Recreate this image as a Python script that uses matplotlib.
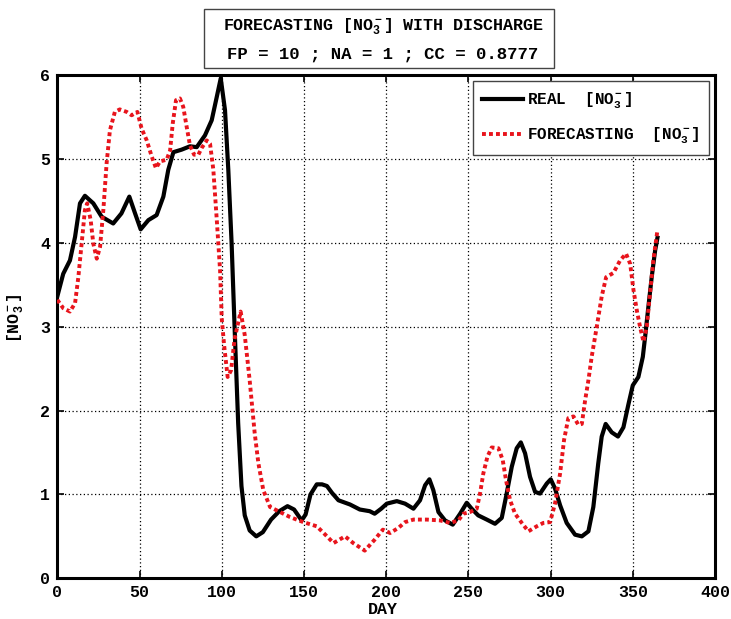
import matplotlib
matplotlib.use("Agg")
import matplotlib.pyplot as plt
from matplotlib.patches import Rectangle

# ---------------- data ----------------
real_day = [0, 3.6, 7.7, 10.8, 13.8, 16.8, 21.9, 27, 34, 39, 43.8, 47.3, 50.7, 55.4, 60.4,
            64.5, 67.5, 70.6, 75.6, 80.7, 84.8, 89.8, 93.9, 97, 99.4, 102, 104, 106, 108,
            110, 112, 114, 117, 121, 125, 130, 135, 140, 144, 148.6, 151, 154, 157.8, 161,
            164, 167, 171, 178, 184, 190, 193, 197, 200.4, 206.5, 211.5, 216.6, 220.6, 223.7,
            226.3, 228.7, 231.8, 235.8, 240.5, 245, 249, 252, 256, 261.2, 266.2, 270.3, 273.3,
            276.4, 279.4, 281.9, 284.5, 287.5, 290.6, 293.6, 297.7, 300.1, 302.7, 305.8, 309.8,
            314.9, 319, 323, 326, 329, 331.1, 333.5, 337.2, 341, 344.3, 347.3, 350, 353.4,
            356.1, 357.5, 359.5, 361.5, 363.6, 365]
real_val = [3.36, 3.63, 3.79, 4.07, 4.47, 4.56, 4.47, 4.31, 4.23, 4.35, 4.55, 4.35, 4.16, 4.27, 4.33,
            4.55, 4.87, 5.08, 5.11, 5.15, 5.14, 5.28, 5.46, 5.74, 5.96, 5.58, 4.87, 4.0, 2.9,
            1.85, 1.1, 0.75, 0.57, 0.50, 0.55, 0.70, 0.80, 0.86, 0.82, 0.69, 0.76, 1.0, 1.12, 1.12,
            1.10, 1.02, 0.93, 0.88, 0.82, 0.80, 0.77, 0.83, 0.89, 0.92, 0.89, 0.83, 0.93, 1.11,
            1.18, 1.05, 0.79, 0.69, 0.64, 0.77, 0.90, 0.83, 0.75, 0.70, 0.65, 0.72, 1.01,
            1.33, 1.55, 1.62, 1.49, 1.21, 1.03, 1.01, 1.13, 1.18, 1.07, 0.87, 0.66,
            0.52, 0.50, 0.56, 0.85, 1.37, 1.69, 1.84, 1.74, 1.69, 1.80, 2.07, 2.30, 2.40,
            2.64, 2.88, 3.24, 3.59, 3.91, 4.06]

fc_day = [0, 3.6, 7.7, 10.8, 12.8, 14.8, 16.8, 18.2, 20.3, 21.9, 24, 26, 28, 30, 32, 35, 38,
          42.2, 45.2, 48.7, 51.3, 54.4, 57.4, 60, 62.5, 66.5, 68.6, 70.2, 72.2, 74.6, 76.6,
          78.7, 80.7, 83.2, 85.8, 87.8, 90.9, 92.9, 94.9, 97, 99, 100, 101.5, 103.6, 105.7,
          107.8, 111.5, 114, 117, 120, 122.3, 125.3, 129.4, 135.5, 141.5, 149.6, 157.8, 163,
          168, 175, 180, 187, 193, 198, 202.4, 207.4, 211.5, 216.6, 224.7, 232.8, 238.9,
          243.9, 247, 251, 255.1, 257.1, 259.1, 261.6, 264.2, 268.3, 270.9, 272.9, 275.4,
          278.4, 282.5, 286.5, 291.6, 295.6, 299.7, 302.7, 305.8, 308.2, 310.8, 313.9, 316.9,
          319, 321, 323, 325, 328.1, 331.1, 333.8, 338.2, 342.3, 345.9, 348.4, 350.4, 352.4,
          354.4, 356.5, 358.5, 360.5, 362.5, 365]
fc_val = [3.32, 3.22, 3.18, 3.28, 3.59, 3.99, 4.39, 4.47, 4.27, 3.99, 3.81, 3.95, 4.39, 4.95,
          5.34, 5.56, 5.59, 5.56, 5.52, 5.56, 5.36, 5.22, 5.03, 4.89, 4.97, 4.99, 5.10, 5.42,
          5.70, 5.72, 5.62, 5.38, 5.16, 5.05, 5.05, 5.13, 5.22, 5.18, 4.87, 4.27, 3.67, 3.10,
          2.77, 2.40, 2.48, 2.85, 3.18, 2.90, 2.36, 1.74, 1.37, 1.05, 0.85, 0.79, 0.73, 0.67,
          0.62, 0.52, 0.42, 0.50, 0.42, 0.33, 0.46, 0.58, 0.54, 0.60, 0.67, 0.70, 0.70, 0.69,
          0.66, 0.69, 0.77, 0.79, 0.83, 1.01, 1.25, 1.45, 1.56, 1.55, 1.41, 1.17, 0.93, 0.77,
          0.66, 0.56, 0.62, 0.66, 0.67, 0.89, 1.25, 1.65, 1.91, 1.93, 1.83, 1.84, 2.12, 2.36,
          2.64, 3.00, 3.36, 3.59, 3.64, 3.79, 3.87, 3.75, 3.44, 3.20, 3.00, 2.82, 3.00, 3.40,
          3.79, 4.15]

x_ticks = [0, 50, 100, 150, 200, 250, 300, 350, 400]
y_ticks = [0, 1, 2, 3, 4, 5, 6]

# ---------------- style ----------------
FONT = "Liberation Mono"
plt.rcParams["font.family"] = [FONT, "DejaVu Sans"]
plt.rcParams["font.weight"] = "bold"
plt.rcParams["mathtext.fontset"] = "custom"
plt.rcParams["mathtext.rm"] = FONT + ":bold"
plt.rcParams["mathtext.it"] = FONT + ":bold"
plt.rcParams["mathtext.bf"] = FONT + ":bold"

W, H = 731, 619
fig = plt.figure(figsize=(W / 100, H / 100), dpi=100)
left, right, top, bottom = 57.3, 715.0, 75.0, 578.3
ax = fig.add_axes([left / W, 1 - bottom / H, (right - left) / W, (bottom - top) / H])

ax.plot(real_day, real_val, color="black", lw=3.0, solid_joinstyle="round",
        label="REAL  [NO$_3^-$]", zorder=3)
ax.plot(fc_day, fc_val, color="#e8141c", lw=2.8, linestyle=(0, (1, 0.8)),
        dash_capstyle="butt", label="FORECASTING  [NO$_3^-$]", zorder=4)

ax.set_xlim(0, 400)
ax.set_ylim(0, 6)
ax.set_xticks(x_ticks)
ax.set_yticks(y_ticks)
ax.tick_params(direction="in", length=5, width=1.2, top=True, right=True,
               labelsize=12, pad=5, colors="black")
for lab in ax.get_xticklabels() + ax.get_yticklabels():
    lab.set_fontweight("bold")
ax.grid(True, color="black", linestyle=(0, (1, 2)), linewidth=0.9)
for s in ax.spines.values():
    s.set_linewidth(2.2)
    s.set_color("black")

# axis labels
fig.text(383 / W, 1 - 609 / H, "DAY", ha="center", va="center", fontsize=12,
         fontweight="bold")
fig.text(16 / W, 1 - 318 / H, "[NO$_3^-$]", ha="center", va="center", fontsize=12,
         fontweight="bold", rotation=90)

# title box
fig.patches.append(Rectangle((204 / W, 1 - 68 / H), 350 / W, 59 / H,
                             transform=fig.transFigure, facecolor="white",
                             edgecolor="#444444", linewidth=1.0))
fig.text(383 / W, 1 - 27 / H, "FORECASTING [NO$_3^-$] WITH DISCHARGE", ha="center",
         va="center", fontsize=12, fontweight="bold")
fig.text(383 / W, 1 - 55 / H, "FP = 10 ; NA = 1 ; CC = 0.8777", ha="center",
         va="center", fontsize=12.5, fontweight="bold")

leg = ax.legend(loc="upper right", fontsize=11.5, handlelength=2.6, handletextpad=0.25,
                borderaxespad=0.4, labelspacing=0.95, borderpad=0.55,
                fancybox=False, framealpha=1.0, edgecolor="#444444")
leg.get_frame().set_linewidth(1.0)
for t in leg.get_texts():
    t.set_fontweight("bold")

fig.savefig("out.png", dpi=100)
